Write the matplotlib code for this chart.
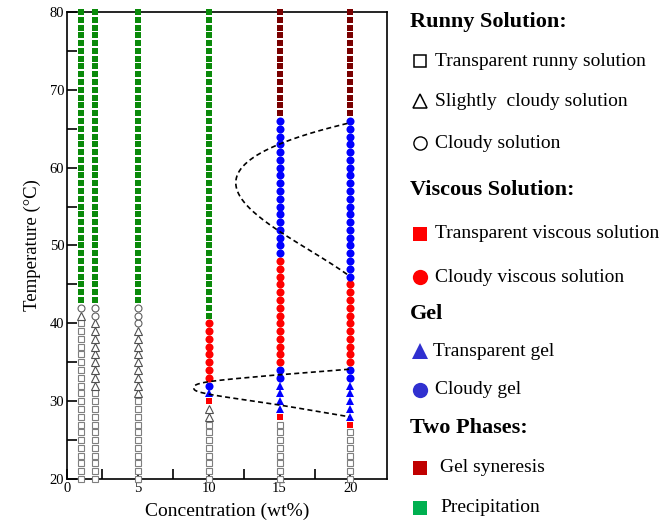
import numpy as np
import matplotlib
matplotlib.use('Agg')
import matplotlib.pyplot as plt

plt.rcParams['font.family'] = ['Liberation Serif', 'DejaVu Serif']

# phase observations: (T start, T end, state) per concentration, 1 degC steps
concentrations = [1, 2, 5, 10, 15, 20]
phases = {
    1: [(20, 40, 'S'), (41, 41, 'T'), (42, 42, 'C'), (43, 80, 'P')],
    2: [(20, 31, 'S'), (32, 40, 'T'), (41, 42, 'C'), (43, 80, 'P')],
    5: [(20, 30, 'S'), (31, 39, 'T'), (40, 42, 'C'), (43, 80, 'P')],
    10: [(20, 27, 'S'), (28, 29, 'T'), (30, 30, 'V'), (31, 31, 'G'), (32, 32, 'H'),
         (33, 40, 'W'), (41, 80, 'P')],
    15: [(20, 27, 'S'), (28, 28, 'V'), (29, 32, 'G'), (33, 34, 'H'), (35, 48, 'W'),
         (49, 66, 'H'), (67, 80, 'Y')],
    20: [(20, 26, 'S'), (27, 27, 'V'), (28, 32, 'G'), (33, 34, 'H'), (35, 45, 'W'),
         (46, 66, 'H'), (67, 80, 'Y')],
}

# dashed boundary guides (concentration, temperature)
upper_x = [19.75, 15, 12.9, 11.7, 12.9, 15, 19.75]
upper_y = [65.7, 62.9, 61.0, 58.2, 55.0, 51.8, 46.3]
lower_x = [19.9, 15, 10, 8.95, 10, 15, 19.9]
lower_y = [34.1, 33.4, 32.5, 31.7, 30.9, 29.5, 28.0]

styles = {
    'S': dict(marker='s', mfc='white', mec='#7f7f7f', ms=4.6, mew=0.8),
    'T': dict(marker='^', mfc='white', mec='#505050', ms=5.2, mew=0.8),
    'C': dict(marker='o', mfc='white', mec='#606060', ms=5.0, mew=0.8),
    'V': dict(marker='s', mfc='#ff0000', mec='#ff0000', ms=5.0, mew=0),
    'W': dict(marker='o', mfc='#ff0000', mec='#ff0000', ms=5.8, mew=0),
    'G': dict(marker='^', mfc='#0000ff', mec='#0000ff', ms=6.0, mew=0),
    'H': dict(marker='o', mfc='#0000ff', mec='#0000ff', ms=5.8, mew=0),
    'Y': dict(marker='s', mfc='#7a0000', mec='#7a0000', ms=5.0, mew=0),
    'P': dict(marker='s', mfc='#0a8a0a', mec='#0a8a0a', ms=5.0, mew=0),
}

W, H = 659, 523
fig = plt.figure(figsize=(W / 100, H / 100), dpi=100)
ax = fig.add_axes([67 / W, 44 / H, 320.3 / W, 467 / H])

for c in concentrations:
    for t0, t1, st in phases[c]:
        temps = np.arange(t0, t1 + 1)
        ax.plot(np.full(len(temps), c), temps, ls='none', clip_on=False, zorder=3, **styles[st])


def poly_curve(xs, ys, deg=3, n=200):
    # concentration as a smooth function of temperature
    p = np.polyfit(ys, xs, deg)
    yy = np.linspace(min(ys), max(ys), n)
    return np.polyval(p, yy), yy


def catmull_rom(xs, ys, n=40):
    # smooth curve through the guide points (scaled to roughly square units)
    p = np.column_stack([np.asarray(xs) * 14.15, np.asarray(ys) * 7.78])
    p = np.vstack([p[0], p, p[-1]])
    out = []
    t = np.linspace(0, 1, n)[:, None]
    for i in range(1, len(p) - 2):
        p0, p1, p2, p3 = p[i - 1], p[i], p[i + 1], p[i + 2]
        seg = 0.5 * (2 * p1 + (-p0 + p2) * t + (2 * p0 - 5 * p1 + 4 * p2 - p3) * t ** 2
                     + (-p0 + 3 * p1 - 3 * p2 + p3) * t ** 3)
        out.append(seg)
    out = np.vstack(out)
    return out[:, 0] / 14.15, out[:, 1] / 7.78


for sx, sy in [poly_curve(upper_x, upper_y), catmull_rom(lower_x, lower_y)]:
    ax.plot(sx, sy, ls=(0, (3, 2)), color='black', lw=1.2, zorder=4)

ax.set_xlim(0, 22.6)
ax.set_ylim(20, 80)
ax.set_xticks([0, 5, 10, 15, 20])
ax.set_xticks([2.5, 7.5, 12.5, 17.5], minor=True)
ax.set_yticks(np.arange(20, 81, 10))
ax.set_yticks(np.arange(25, 80, 10), minor=True)
ax.tick_params(which='both', direction='in', labelsize=10.5, width=1.2, pad=2)
ax.tick_params(which='major', length=7)
ax.tick_params(which='minor', length=7)
for sp in ax.spines.values():
    sp.set_linewidth(1.2)
ax.set_xlabel('Concentration (wt%)', fontsize=14, labelpad=6)
ax.set_ylabel('Temperature (°C)', fontsize=13.5, labelpad=6)

# legend panel in pixel coordinates
lg = fig.add_axes([0, 0, 1, 1])
lg.set_xlim(0, W)
lg.set_ylim(H, 0)
lg.axis('off')

headers = [('Runny Solution:', 22), ('Viscous Solution:', 190), ('Gel', 314), ('Two Phases:', 428)]
for txt, y in headers:
    lg.text(410, y, txt, fontsize=16, fontweight='bold', va='center', ha='left')

entries = [
    ('Transparent runny solution', 61, 435, dict(marker='s', mfc='white', mec='black', ms=9, mew=1.1)),
    ('Slightly  cloudy solution', 101, 435, dict(marker='^', mfc='white', mec='black', ms=9.5, mew=1.1)),
    ('Cloudy solution', 143, 435, dict(marker='o', mfc='white', mec='black', ms=9.5, mew=1.0)),
    ('Transparent viscous solution', 234, 435, dict(marker='s', mfc='#ff0000', mec='#ff0000', ms=10.5, mew=0)),
    ('Cloudy viscous solution', 277, 435, dict(marker='o', mfc='#ff0000', mec='#ff0000', ms=11, mew=0)),
    ('Transparent gel', 351, 433, dict(marker='^', mfc='#3030d0', mec='#3030d0', ms=11, mew=0)),
    ('Cloudy gel', 390, 435, dict(marker='o', mfc='#3030d0', mec='#3030d0', ms=11, mew=0)),
    ('Gel syneresis', 468, 440, dict(marker='s', mfc='#c00000', mec='#c00000', ms=10.5, mew=0)),
    ('Precipitation', 508, 440, dict(marker='s', mfc='#00b050', mec='#00b050', ms=10.5, mew=0)),
]
for txt, y, tx, st in entries:
    lg.plot([419.5], [y], ls='none', clip_on=False, **st)
    lg.text(tx, y, txt, fontsize=14, va='center', ha='left')

fig.savefig('out.png', dpi=100)
